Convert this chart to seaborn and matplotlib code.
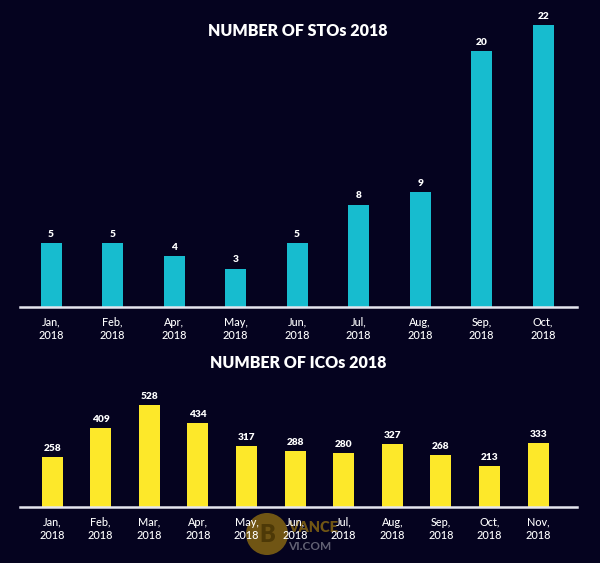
import matplotlib
matplotlib.use("Agg")
import matplotlib.pyplot as plt
import seaborn as sns
import pandas as pd
from matplotlib.patches import Circle

sto_months = ["Jan,\n2018", "Feb,\n2018", "Apr,\n2018", "May,\n2018", "Jun,\n2018",
              "Jul,\n2018", "Aug,\n2018", "Sep,\n2018", "Oct,\n2018"]
sto_values = [5, 5, 4, 3, 5, 8, 9, 20, 22]

ico_months = ["Jan,\n2018", "Feb,\n2018", "Mar,\n2018", "Apr,\n2018", "May,\n2018",
              "Jun,\n2018", "Jul,\n2018", "Aug,\n2018", "Sep,\n2018", "Oct,\n2018",
              "Nov,\n2018"]
ico_values = [258, 409, 528, 434, 317, 288, 280, 327, 268, 213, 333]

BG = "#05031f"
CYAN = "#17bccf"
YELLOW = "#fde82a"
FONT = "Lato"

sns.set_theme(style="white")
plt.rcParams["font.family"] = [FONT, "DejaVu Sans"]

W, H = 600, 563
fig = plt.figure(figsize=(6, 5.63), dpi=100, facecolor=BG)

# watermark (drawn beneath the charts)
wm = fig.add_axes([0, 0, 1, 1], facecolor="none")
wm.set_zorder(0)
wm.set_xlim(0, W)
wm.set_ylim(H, 0)
wm.axis("off")
wm.add_patch(Circle((267, 534), 21, color="#8c6b12", alpha=0.8, lw=0))
wm.text(267, 535, "B", ha="center", va="center", fontsize=17, fontweight="heavy",
        color="#4a3606", alpha=0.9)
wm.text(288, 527, "VANCE", ha="left", va="center", fontsize=10.5, fontweight="heavy",
        color="#8c6b12", alpha=0.8)
wm.text(288, 546, "VI.COM", ha="left", va="center", fontsize=8.5, fontweight="bold",
        color="#8a8a98", alpha=0.7)

def px_axes(left, right, top, bottom):
    return fig.add_axes([left / W, (H - bottom) / H, (right - left) / W, (bottom - top) / H])

ax1 = px_axes(20, 577, 17, 307)
ax2 = px_axes(20, 577, 390, 507)

df1 = pd.DataFrame({"month": sto_months, "value": sto_values})
df2 = pd.DataFrame({"month": ico_months, "value": ico_values})

sns.barplot(data=df1, x="month", y="value", color=CYAN, width=0.34, saturation=1,
            edgecolor="none", ax=ax1)
sns.barplot(data=df2, x="month", y="value", color=YELLOW, width=0.43, saturation=1,
            edgecolor="none", ax=ax2)

ax1.set_xlim(-0.505, 8.55)
ax1.set_ylim(0, 290 / 12.8)
ax2.set_xlim(-0.66, 10.8)
ax2.set_ylim(0, 117 / 0.193)

for ax in (ax1, ax2):
    ax.set_zorder(1)
    ax.set_facecolor("none")
    ax.set_xlabel("")
    ax.set_ylabel("")
    ax.set_yticks([])
    for s in ("top", "right", "left"):
        ax.spines[s].set_visible(False)
    ax.spines["bottom"].set_color("#e6e6ef")
    ax.spines["bottom"].set_linewidth(1.8)
    ax.tick_params(axis="x", length=0, pad=7, labelsize=7.8, labelcolor="white")
    for lbl in ax.get_xticklabels():
        lbl.set_fontweight("medium")
        lbl.set_linespacing(1.3)
    for c in ax.containers:
        ax.bar_label(c, labels=[f"{v:g}" for v in c.datavalues], padding=3,
                     color="white", fontsize=7.3, fontweight="heavy", clip_on=False)
    for p in ax.patches:
        p.set_clip_on(False)

fig.text(298 / W, 1 - 31 / H, "NUMBER OF STOs 2018", ha="center", va="center",
         color="white", fontsize=11.5, fontweight="heavy")
fig.text(298 / W, 1 - 363 / H, "NUMBER OF ICOs 2018", ha="center", va="center",
         color="white", fontsize=11.5, fontweight="heavy")

fig.savefig("out.png", dpi=100, facecolor=BG)
